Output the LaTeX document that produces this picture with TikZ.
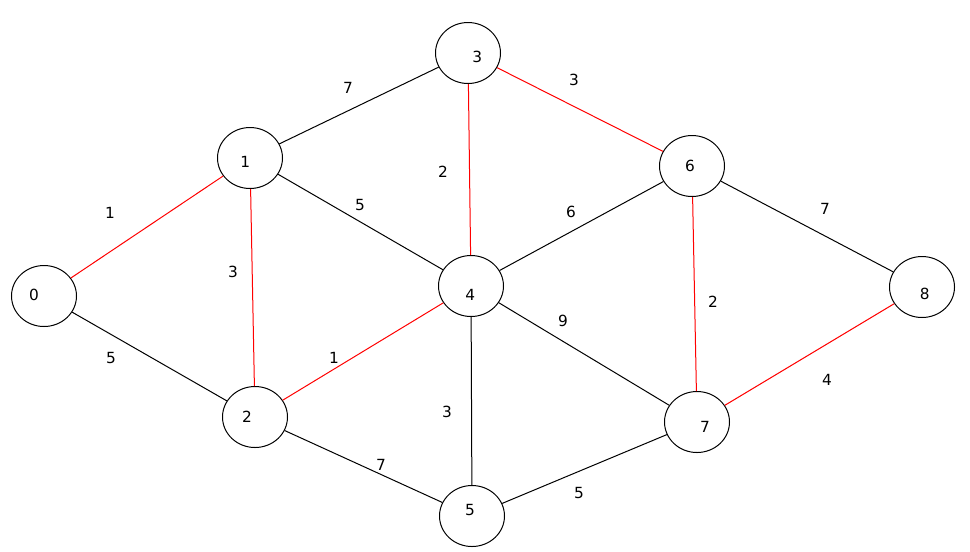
\documentclass[tikz,border=0pt]{standalone}
\usepackage{fontspec}
\setmainfont{DejaVu Sans}
\usetikzlibrary{shapes.geometric}
\begin{document}
\begin{tikzpicture}[x=0.75pt,y=-0.75pt,
  vtx/.style={draw=black,line width=0.75pt,ellipse,minimum width=48.75pt,minimum height=45.75pt,inner sep=0pt},
  lbl/.style={font=\fontsize{11.5}{13}\selectfont,text=black,inner sep=0pt},
  blk/.style={draw=black,line width=0.75pt},
  redl/.style={draw=red,line width=0.75pt},
  wt/.style={font=\fontsize{11.5}{13}\selectfont,text=black,inner sep=1pt}]
\useasboundingbox (0,0) rectangle (970,551);
\node[vtx,label={[lbl,xshift=-7.5pt,yshift=1pt]center:0}] (n0) at (44,296) {};
\node[vtx,label={[lbl,xshift=-3.5pt,yshift=-3pt]center:1}] (n1) at (250,158) {};
\node[vtx,label={[lbl,xshift=-6pt,yshift=0pt]center:2}] (n2) at (255,417) {};
\node[vtx,label={[lbl,xshift=7pt,yshift=-3pt]center:3}] (n3) at (468,53) {};
\node[vtx,label={[lbl,xshift=-0.5pt,yshift=-7pt]center:4}] (n4) at (471,286) {};
\node[vtx,label={[lbl,xshift=-1.5pt,yshift=4.5pt]center:5}] (n5) at (472,516) {};
\node[vtx,label={[lbl,xshift=-1.5pt,yshift=0pt]center:6}] (n6) at (692,166) {};
\node[vtx,label={[lbl,xshift=6pt,yshift=-3.5pt]center:7}] (n7) at (697,422) {};
\node[vtx,label={[lbl,xshift=2pt,yshift=-5pt]center:8}] (n8) at (922,287) {};
\draw[redl] (n0) -- (n1);
\draw[blk] (n0) -- (n2);
\draw[blk] (n1) -- (n3);
\draw[redl] (n1) -- (n2);
\draw[blk] (n1) -- (n4);
\draw[redl] (n3) -- (n4);
\draw[redl] (n3) -- (n6);
\draw[blk] (n4) -- (n6);
\draw[redl] (n2) -- (n4);
\draw[blk] (n4) -- (n7);
\draw[blk] (n4) -- (n5);
\draw[blk] (n2) -- (n5);
\draw[blk] (n5) -- (n7);
\draw[redl] (n6) -- (n7);
\draw[blk] (n6) -- (n8);
\draw[redl] (n7) -- (n8);
\node[wt] (w01) at (110,213) {1};
\node[wt] (w02) at (111,358) {5};
\node[wt] (w13) at (348,88) {7};
\node[wt] (w12) at (233,272) {3};
\node[wt] (w14) at (360,205) {5};
\node[wt] (w34) at (443,172) {2};
\node[wt] (w36) at (574,80) {3};
\node[wt] (w46) at (571,212) {6};
\node[wt] (w24) at (334,358) {1};
\node[wt] (w47) at (563,321) {9};
\node[wt] (w45) at (447,412) {3};
\node[wt] (w25) at (381,465) {7};
\node[wt] (w57) at (579,493) {5};
\node[wt] (w67) at (713,302) {2};
\node[wt] (w68) at (825,209) {7};
\node[wt] (w78) at (827,380) {4};
\end{tikzpicture}
\end{document}
